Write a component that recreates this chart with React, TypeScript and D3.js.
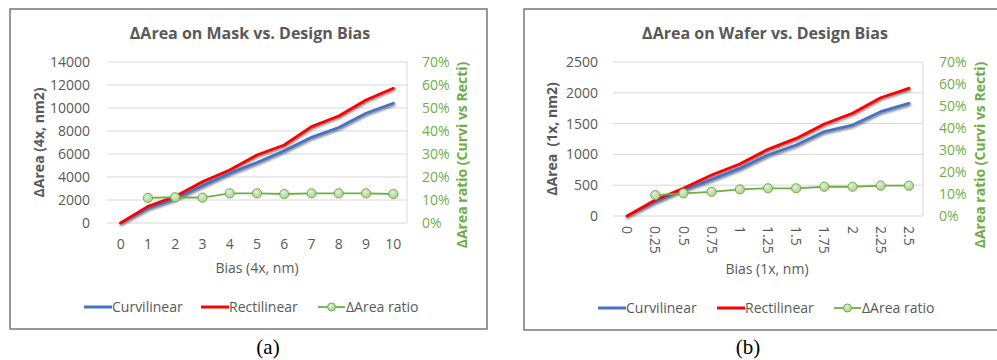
import React from 'react';
import * as d3 from 'd3';

// Design bias categories
const catsMask = ['0', '1', '2', '3', '4', '5', '6', '7', '8', '9', '10'];
const catsWafer = ['0', '0.25', '0.5', '0.75', '1', '1.25', '1.5', '1.75', '2', '2.25', '2.5'];

// ΔArea on mask (4x, nm2)
const curviMask = [0, 1280, 2100, 3250, 4320, 5260, 6290, 7450, 8300, 9540, 10410];
const rectiMask = [0, 1450, 2300, 3590, 4610, 5910, 6780, 8380, 9300, 10700, 11710];
const ratioMask: (number | null)[] = [null, 0.109, 0.112, 0.11, 0.129, 0.129, 0.126, 0.129, 0.129, 0.129, 0.126];

// ΔArea on wafer (1x, nm2)
const curviWafer = [0, 233, 422, 595, 773, 990, 1153, 1370, 1477, 1693, 1829];
const rectiWafer = [0, 260, 450, 665, 844, 1082, 1260, 1493, 1667, 1920, 2073];
const ratioWafer: (number | null)[] = [null, 0.095, 0.103, 0.11, 0.121, 0.126, 0.126, 0.133, 0.133, 0.138, 0.138];

const ticksMask = [0, 2000, 4000, 6000, 8000, 10000, 12000, 14000];
const ticksWafer = [0, 500, 1000, 1500, 2000, 2500];
const ticksRatio = [0, 0.1, 0.2, 0.3, 0.4, 0.5, 0.6, 0.7];

const legendNames = ['Curvilinear', 'Rectilinear', 'ΔArea ratio'];

const FONT = '"Open Sans", "Noto Sans", sans-serif';
const GREY = '#595959';
const GREEN = '#70ad47';
const BLUE = '#4472c4';
const RED = '#ff0000';
const FS = 14;

interface PanelProps {
  title: string;
  yTitle: string;
  xTitle: string;
  caption: string;
  cats: string[];
  curvi: number[];
  recti: number[];
  ratio: (number | null)[];
  ticks: number[];
  rotateX: boolean;
  box: { x0: number; y0: number; x1: number; y1: number };
  plot: { left: number; right: number; top: number; bottom: number };
  leftTickX: number;
  rightTickX: number;
  yTitleX: number;
  y2TitleX: number;
  titleX: number;
  xTitleX: number;
  xTitleY: number;
  xTickY: number;
  legendY: number;
  legendX: number[];
  captionX: number;
  id: string;
}

function Panel(p: PanelProps) {
  const x = d3.scalePoint<string>().domain(p.cats).range([p.plot.left, p.plot.right]).padding(0.5);
  const y = d3
    .scaleLinear()
    .domain([0, p.ticks[p.ticks.length - 1]])
    .range([p.plot.bottom, p.plot.top]);
  const y2 = d3.scaleLinear().domain([0, 0.7]).range([p.plot.bottom, p.plot.top]);

  const line = d3
    .line<number>()
    .x((_, i) => x(p.cats[i]) as number)
    .y((d) => y(d));

  const ratioPts = p.ratio
    .map((v, i) => ({ v, c: p.cats[i] }))
    .filter((d) => d.v !== null) as { v: number; c: string }[];
  const ratioLine = d3
    .line<{ v: number; c: string }>()
    .x((d) => x(d.c) as number)
    .y((d) => y2(d.v));

  const yMid = (p.plot.top + p.plot.bottom) / 2;
  const fmtPct = d3.format('.0%');
  const dy = FS * 0.35;

  return (
    <g>
      <rect
        x={p.box.x0}
        y={p.box.y0}
        width={p.box.x1 - p.box.x0}
        height={p.box.y1 - p.box.y0}
        fill="#fff"
        stroke="#7f7f7f"
        strokeWidth={1.6}
      />
      <text
        x={p.titleX}
        y={38.5}
        textAnchor="middle"
        fontFamily={FONT}
        fontWeight="bold"
        fontSize={16}
        fill={GREY}
      >
        {p.title}
      </text>

      {/* gridlines */}
      {p.ticks.map((t) => (
        <line key={t} x1={p.plot.left} x2={p.plot.right} y1={y(t)} y2={y(t)} stroke="#d9d9d9" strokeWidth={1} />
      ))}
      <line x1={p.plot.right} x2={p.plot.right} y1={p.plot.top} y2={p.plot.bottom} stroke="#d9d9d9" strokeWidth={1} />

      {/* primary axis labels */}
      {p.ticks.map((t) => (
        <text key={t} x={p.leftTickX} y={y(t) + dy} textAnchor="end" fontFamily={FONT} fontSize={FS} fill={GREY}>
          {t}
        </text>
      ))}
      {/* secondary axis labels */}
      {ticksRatio.map((t) => (
        <text key={t} x={p.rightTickX} y={y2(t) + dy} textAnchor="start" fontFamily={FONT} fontSize={FS} fill={GREEN}>
          {fmtPct(t)}
        </text>
      ))}

      {/* category labels */}
      {p.cats.map((c) =>
        p.rotateX ? (
          <text
            key={c}
            transform={`translate(${(x(c) as number) - dy},${p.xTickY}) rotate(90)`}
            fontFamily={FONT}
            fontSize={FS}
            fill={GREY}
          >
            {c}
          </text>
        ) : (
          <text key={c} x={x(c)} y={p.xTickY + dy} textAnchor="middle" fontFamily={FONT} fontSize={FS} fill={GREY}>
            {c}
          </text>
        )
      )}

      {/* axis titles */}
      <text
        transform={`translate(${p.yTitleX + dy},${yMid}) rotate(-90)`}
        textAnchor="middle"
        fontFamily={FONT}
        fontWeight="bold"
        fontSize={FS}
        fill={GREY}
        style={{ whiteSpace: 'pre' }}
      >
        {p.yTitle}
      </text>
      <text
        transform={`translate(${p.y2TitleX + dy},155) rotate(-90)`}
        textAnchor="middle"
        fontFamily={FONT}
        fontWeight="bold"
        fontSize={FS}
        fill={GREEN}
      >
        ΔArea ratio (Curvi vs Recti)
      </text>
      <text x={p.xTitleX} y={p.xTitleY + dy} textAnchor="middle" fontFamily={FONT} fontSize={FS} fill={GREY}>
        {p.xTitle}
      </text>

      {/* series */}
      <g filter={`url(#shadow-${p.id})`}>
        <path d={line(p.curvi) as string} fill="none" stroke={BLUE} strokeWidth={2.8} strokeLinejoin="round" strokeLinecap="round" />
        <path d={line(p.recti) as string} fill="none" stroke={RED} strokeWidth={2.8} strokeLinejoin="round" strokeLinecap="round" />
      </g>
      <path d={ratioLine(ratioPts) as string} fill="none" stroke={GREEN} strokeWidth={1.8} />
      {ratioPts.map((d) => (
        <circle
          key={d.c}
          cx={x(d.c)}
          cy={y2(d.v)}
          r={4.6}
          fill={`url(#marker-${p.id})`}
          stroke={GREEN}
          strokeWidth={1}
        />
      ))}

      {/* legend */}
      <line x1={p.legendX[0]} x2={p.legendX[0] + 28} y1={p.legendY} y2={p.legendY} stroke={BLUE} strokeWidth={3} />
      <text x={p.legendX[0] + 28} y={p.legendY + dy} fontFamily={FONT} fontSize={FS} fill={GREY}>
        {legendNames[0]}
      </text>
      <line x1={p.legendX[1]} x2={p.legendX[1] + 28} y1={p.legendY} y2={p.legendY} stroke={RED} strokeWidth={3} />
      <text x={p.legendX[1] + 28} y={p.legendY + dy} fontFamily={FONT} fontSize={FS} fill={GREY}>
        {legendNames[1]}
      </text>
      <line x1={p.legendX[2]} x2={p.legendX[2] + 27} y1={p.legendY} y2={p.legendY} stroke={GREEN} strokeWidth={1.8} />
      <circle cx={p.legendX[2] + 13.5} cy={p.legendY} r={4} fill={`url(#marker-${p.id})`} stroke={GREEN} strokeWidth={1} />
      <text x={p.legendX[2] + 28} y={p.legendY + dy} fontFamily={FONT} fontSize={FS} fill={GREY}>
        {legendNames[2]}
      </text>

      <text
        x={p.captionX}
        y={354}
        textAnchor="middle"
        fontFamily='"Liberation Serif", "Times New Roman", serif'
        fontSize={21}
        fill="#000"
      >
        {p.caption}
      </text>
    </g>
  );
}

function Defs({ id }: { id: string }) {
  return (
    <>
      <filter id={`shadow-${id}`} x="-10%" y="-10%" width="120%" height="120%">
        <feDropShadow dx={0.8} dy={1.4} stdDeviation={0.9} floodColor="#000" floodOpacity={0.55} />
      </filter>
      <radialGradient id={`marker-${id}`} cx="40%" cy="35%" r="65%">
        <stop offset="0%" stopColor="#e2f0d9" />
        <stop offset="100%" stopColor="#a9d18e" />
      </radialGradient>
    </>
  );
}

export default function App() {
  return (
    <svg
      width={997}
      height={360}
      style={{ position: 'absolute', left: 0, top: 0, background: '#fff' }}
    >
      <defs>
        <Defs id="a" />
        <Defs id="b" />
      </defs>
      <rect width={997} height={360} fill="#fff" />
      <Panel
        id="a"
        title="ΔArea on Mask vs. Design Bias"
        yTitle="ΔArea (4x, nm2)"
        xTitle="Bias (4x, nm)"
        caption="(a)"
        cats={catsMask}
        curvi={curviMask}
        recti={rectiMask}
        ratio={ratioMask}
        ticks={ticksMask}
        rotateX={false}
        box={{ x0: 10, y0: 9, x1: 487, y1: 329 }}
        plot={{ left: 107, right: 407, top: 62, bottom: 223 }}
        leftTickX={90}
        rightTickX={422}
        yTitleX={39}
        y2TitleX={462}
        titleX={250}
        xTitleX={257}
        xTitleY={268}
        xTickY={244}
        legendY={307}
        legendX={[84, 201, 318]}
        captionX={268}
      />
      <Panel
        id="b"
        title="ΔArea on Wafer vs. Design Bias"
        yTitle="ΔArea  (1x, nm2)"
        xTitle="Bias (1x, nm)"
        caption="(b)"
        cats={catsWafer}
        curvi={curviWafer}
        recti={rectiWafer}
        ratio={ratioWafer}
        ticks={ticksWafer}
        rotateX={true}
        box={{ x0: 524, y0: 9, x1: 1002, y1: 330 }}
        plot={{ left: 613, right: 923, top: 62, bottom: 216 }}
        leftTickX={598}
        rightTickX={939}
        yTitleX={552}
        y2TitleX={980}
        titleX={765}
        xTitleX={767}
        xTitleY={269}
        xTickY={226}
        legendY={308}
        legendX={[598, 717, 834]}
        captionX={748}
      />
    </svg>
  );
}
